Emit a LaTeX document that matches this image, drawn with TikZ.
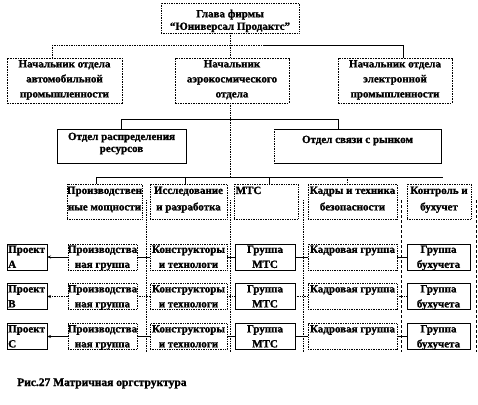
\documentclass[tikz,border=0pt]{standalone}
\usepackage{fontspec}
\setmainfont{Liberation Serif}[BoldFont={Liberation Serif Bold},BoldFeatures={FakeBold=1.2}]
\usetikzlibrary{arrows.meta}
\begin{document}
\begin{tikzpicture}[x=1pt,y=-1pt,
  base/.style={inner sep=0pt,outer sep=0pt,line width=0.7pt},
  solbox/.style={base,draw},
  dotbox/.style={base,draw,densely dotted},
  dashbox/.style={base,draw,dash pattern=on 1.6pt off 1pt},
  tx/.style={inner sep=0pt,align=center,font=\bfseries\fontsize{11}{#1}\selectfont},
  txl/.style={inner sep=0pt,align=left,font=\bfseries\fontsize{11}{#1}\selectfont},
  ln/.style={line width=0.7pt},
  dln/.style={line width=0.7pt,densely dotted},
  dsh/.style={line width=0.7pt,dash pattern=on 3pt off 2pt},
  arr/.style={-{Stealth[length=4pt,width=3pt]}}
]
\useasboundingbox (0,0) rectangle (478,404);

% ---- level 1
\node[dotbox,minimum width=138pt,minimum height=30pt] (head) at (230,18) {};
\node[tx=12.5,anchor=north] at (230,9.5) {Глава фирмы\\“Юниверсал Продактс”};

% ---- level 2
\node[dashbox,minimum width=115pt,minimum height=45pt] (auto) at (64.5,80.5) {};
\node[dashbox,minimum width=114pt,minimum height=45pt] (aero) at (232,80.5) {};
\node[dashbox,minimum width=114pt,minimum height=45pt] (elec) at (395,80.5) {};
\node[tx=15,anchor=north] at (64.5,60) {Начальник отдела\\автомобильной\\промышленности};
\node[tx=15,anchor=north] at (232,60) {Начальник\\аэрокосмического\\отдела};
\node[tx=15,anchor=north] at (395,60) {Начальник отдела\\электронной\\промышленности};

\coordinate (h1) at (52,45);
\coordinate (hm) at (263,45);
\coordinate (h2) at (403,45);
\coordinate (hc) at (230,45);
\draw[dln] (head.south) -- (hc);
\draw[dln] (h1) -- (hm);
\draw[ln] (hm) -- (h2);
\draw[dln] (h1) -- (h1 |- auto.north);
\draw[ln] (h2) -- (h2 |- elec.north);
\draw[dln] (hc) -- (hc |- aero.north);

% ---- level 3
\node[solbox,minimum width=129pt,minimum height=34pt] (res) at (121.5,146) {};
\node[solbox,minimum width=167pt,minimum height=34pt] (mkt) at (357.5,146) {};
\draw[line width=0.8pt,white] (mkt.north west) -- (mkt.south west);
\draw[dln] (mkt.north west) -- (mkt.south west);
\node[tx=12,anchor=north] at (121.5,132.5) {Отдел распределения\\ресурсов};
\node[tx=12,anchor=north] at (357.5,135.5) {Отдел связи с рынком};

\coordinate (m1) at (121.5,119);
\coordinate (m2) at (338,119);
\draw[ln] (m1) -- (m2);
\draw[ln] (m1) -- (res.north);
\draw[ln] (m2) -- (m2 |- mkt.north);

% main dotted spine
\coordinate (sp) at (230,177);
\draw[dln] (aero.south -| hc) -- (sp);

% ---- level 4
\node[dotbox,minimum width=75pt,minimum height=35pt] (c1) at (104.5,201.5) {};
\node[dotbox,minimum width=77pt,minimum height=35pt] (c2) at (188.5,201.5) {};
\node[dotbox,minimum width=64pt,minimum height=35pt] (c3) at (266,201.5) {};
\node[dotbox,minimum width=89pt,minimum height=35pt] (c4) at (352.5,201.5) {};
\node[dotbox,minimum width=64pt,minimum height=35pt] (c5) at (439,201.5) {};
\node[tx=16.5,anchor=north] at (c1.north) [yshift=-2.5pt] {Производствен\\ные мощности};
\node[tx=16.5,anchor=north] at (c2.north) [yshift=-2.5pt] {Исследование\\и  разработка};
\node[txl=16.5,anchor=north west] at (c3.north west) [xshift=1.5pt,yshift=-2.5pt] {МТС};
\node[tx=16.5,anchor=north] at (c4.north) [yshift=-2.5pt] {Кадры и техника\\безопасности};
\node[tx=16.5,anchor=north] at (c5.north) [yshift=-2.5pt] {Контроль и\\бухучет};

\coordinate (b1) at (96,177);
\coordinate (b2) at (185,177);
\coordinate (b3) at (269,177);
\coordinate (b4) at (347,177);
\coordinate (b5) at (443,177);
\draw[ln] (b1) -- (b5);
\draw[ln] (b1) -- (b1 |- c1.north);
\draw[ln] (b2) -- (b2 |- c2.north);
\draw[ln] (b3) -- (b3 |- c3.north);
\draw[dln] (b4) -- (b4 |- c4.north);

% ---- vertical column guides
\coordinate (v1t) at (146.5,200); \coordinate (v1b) at (146.5,352);
\coordinate (v2t) at (230.5,200); \coordinate (v2b) at (230.5,352);
\coordinate (v3t) at (303,200);   \coordinate (v3b) at (303,352);
\coordinate (v4t) at (401,200);   \coordinate (v4b) at (401,352);
\coordinate (v5t) at (476.5,200); \coordinate (v5b) at (476.5,352);
\draw[dln] (v1t) -- (v1b);
\draw[dln] (v2t) -- (v2b);
\draw[dln] (v3t) -- (v3b);
\draw[dsh] (v4t) -- (v4b);
\draw[dsh] (v5t) -- (v5b);

% ---- project rows
\foreach \r/\yc/\L/\st in {a/257/А/ln, b/296.5/В/dln, c/336.5/С/ln}{
  \node[solbox,minimum width=40pt,minimum height=26pt,fill=white] (p\r) at (27,\yc) {};
  \node[dotbox,minimum width=69pt,minimum height=26pt,fill=white] (g\r) at (102.5,\yc) {};
  \node[dotbox,minimum width=77pt,minimum height=26pt,fill=white] (k\r) at (188.5,\yc) {};
  \node[solbox,minimum width=60pt,minimum height=26pt,fill=white] (m\r) at (265,\yc) {};
  \node[dotbox,minimum width=89pt,minimum height=26pt,fill=white] (q\r) at (352.5,\yc) {};
  \node[solbox,minimum width=63pt,minimum height=26pt,fill=white] (u\r) at (438.5,\yc) {};
  \node[txl=15,anchor=north west] at (p\r.north west) [xshift=1pt,yshift=-1.5pt] {Проект\\\L};
  \node[tx=15,anchor=north] at (g\r.north) [yshift=-1.5pt] {Производства\\ная  группа};
  \node[tx=15,anchor=north] at (k\r.north) [yshift=-1.5pt] {Конструкторы\\и технологи};
  \node[tx=15,anchor=north] at (m\r.north) [yshift=-1.5pt] {Группа\\МТС};
  \node[tx=15,anchor=north] at (q\r.north) [yshift=-1.5pt] {Кадровая группа};
  \node[tx=15,anchor=north] at (u\r.north) [yshift=-1.5pt] {Группа\\бухучета};
  \draw[\st,arr] (g\r.west) -- (p\r.east);
  \draw[\st] (g\r.east) -- (k\r.west);
  \draw[\st] (k\r.east) -- (m\r.west);
  \draw[\st] (m\r.east) -- (q\r.west);
  \draw[\st] (q\r.east) -- (u\r.west);
}

% ---- caption
\node[txl=12,anchor=base west,font=\bfseries\fontsize{11.5}{12}\selectfont] (cap) at (17,386) {Рис.27  Матричная оргструктура};
\end{tikzpicture}
\end{document}
